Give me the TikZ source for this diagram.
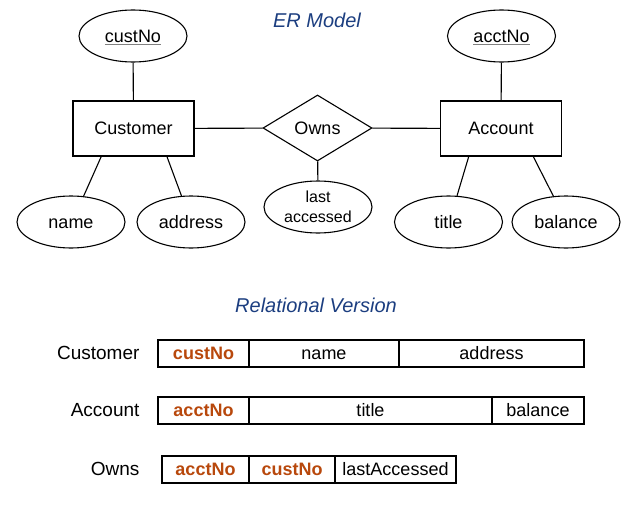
\documentclass[tikz,border=0pt]{standalone}
\usepackage{fontspec}
\setmainfont{Liberation Sans}
\usetikzlibrary{shapes.geometric,positioning}
\definecolor{keyorange}{RGB}{184,72,12}
\definecolor{titleblue}{RGB}{28,62,128}
\newcommand{\keyattr}[1]{{\color{gray}\underline{\color{black}#1}}}

\tikzset{
  entity/.style={draw, rectangle, minimum width=121pt, minimum height=55pt, inner sep=0pt},
  oval/.style={draw, ellipse, minimum width=108pt, minimum height=52pt, inner sep=0pt},
  attrib/.style={oval, text height=13pt, text depth=0pt},
  relship/.style={draw, diamond, minimum width=109pt, minimum height=66pt, inner sep=0pt},
  cell/.style={draw, rectangle, minimum height=27pt, inner sep=0pt, outer sep=0pt, text height=13pt, text depth=1pt},
  keycell/.style={cell, text=keyorange, font=\fontsize{18}{21}\selectfont\bfseries},
  heading/.style={text=titleblue, font=\fontsize{20}{24}\selectfont\itshape},
  relname/.style={anchor=east, inner sep=0pt, font=\fontsize{19}{22}\selectfont},
}

\begin{document}
\begin{tikzpicture}[x=1pt, y=-1pt, line width=1.1pt, font=\fontsize{18}{21}\selectfont]
	\useasboundingbox (0,0) rectangle (643,506);

	% ER model
	\node[heading] (ertitle) at (317,20) {ER Model};
	\node[entity] (cust) at (133.5,128.5) {Customer};
	\node[entity] (acct) at (501,128.5) {Account};
	\node[relship] (owns) at (317.5,128) {Owns};
	\node[attrib] (custno) at (133,36) {\keyattr{custNo}}; % key attribute
	\node[attrib] (acctno) at (501.5,36) {\keyattr{acctNo}}; % key attribute
	\node[attrib] (name) at (71,222) {name};
	\node[attrib] (address) at (191,222) {address};
	\node[oval, align=center, font=\fontsize{16}{20}\selectfont] (lastacc) at (318,207) {last\\accessed};
	\node[attrib] (title) at (448.5,222) {title};
	\node[attrib] (balance) at (566,222) {balance};

	\draw (custno) -- (cust);
	\draw (acctno) -- (acct);
	\draw (cust) -- (owns) -- (acct);
	\draw (owns) -- (lastacc);
	\draw (cust.221) -- (name.64);
	\draw (cust.320) -- (address.110);
	\draw (acct.221) -- (title.72);
	\draw (acct.319) -- (balance.116);

	% Relational version
	\node[heading] (reltitle) at (316,305) {Relational Version};

	\node[relname] (custrel) at (140,353) {Customer};
	\node[keycell, minimum width=91pt, anchor=west] (c1) at (158,353.5) {custNo};
	\node[cell, minimum width=150pt, right=0pt of c1] (c2) {name};
	\node[cell, minimum width=185pt, right=0pt of c2] (c3) {address};

	\node[relname] (acctrel) at (140,410) {Account};
	\node[keycell, minimum width=91pt, anchor=west] (a1) at (158,410.5) {acctNo};
	\node[cell, minimum width=243pt, right=0pt of a1] (a2) {title};
	\node[cell, minimum width=92pt, right=0pt of a2] (a3) {balance};

	\node[relname] (ownsrel) at (140,469) {Owns};
	\node[keycell, minimum width=87pt, anchor=west] (o1) at (162,469.5) {acctNo};
	\node[keycell, minimum width=86pt, right=0pt of o1] (o2) {custNo};
	\node[cell, minimum width=121pt, right=0pt of o2] (o3) {lastAccessed};

\end{tikzpicture}
\end{document}
